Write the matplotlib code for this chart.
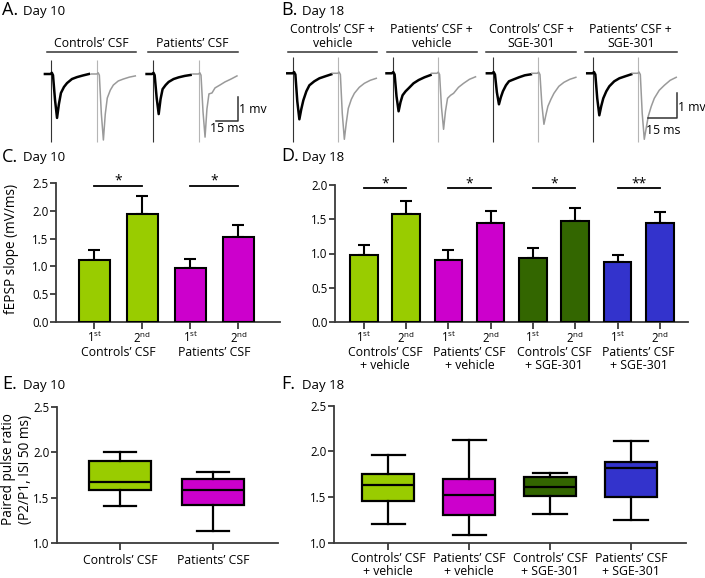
"""Paired-pulse fEPSP figure: traces (A, B), slope bars (C, D), PPR boxes (E, F)."""
import matplotlib
matplotlib.use("Agg")
import matplotlib.pyplot as plt
from matplotlib.ticker import FormatStrFormatter

plt.rcParams["font.family"] = ["Open Sans", "DejaVu Sans"]
plt.rcParams["mathtext.fontset"] = "custom"
plt.rcParams["mathtext.rm"] = "Open Sans"
plt.rcParams["mathtext.it"] = "Open Sans:italic"

W, H = 705, 578
FS = 8.8      # general text size
TFS = 8.3     # tick label size

# ---- colours
LIME = "#99cc00"
MAGENTA = "#cc00cc"
DKGREEN = "#336600"
BLUE = "#3333cc"
AXCOL = "#3a3a3a"

# ---- panel A / B traces (time in ms relative to stimulus, voltage in mV)
t_grid_a = [-4.2, -0.3, 0.6, 1.4, 2.8, 4.2, 5.5, 6.9, 9.0, 11.1, 14.5, 18.0, 22.2, 26.3]
t_grid_b = [-3.2, -0.3, 0.4, 1.1, 2.1, 3.2, 4.2, 5.3, 6.9, 8.5, 11.1, 13.8, 16.9, 20.1]
a_labels = ["Controls’ CSF", "Patients’ CSF"]
a_stim = [7.6, 78.0]          # first stimulus of each pair (ms)
a_isi = 32.1
a_first = [
    [0, 0, 0.05, -0.05, -1.08, -1.83, -1.25, -0.79, -0.54, -0.38, -0.21, -0.13, -0.06, 0.0],
    [0, 0, 0.05, -0.05, -1.00, -1.67, -1.04, -0.63, -0.46, -0.33, -0.21, -0.14, -0.08, -0.04],
]
a_second = [
    [0, 0, 0.05, -0.05, -1.67, -2.75, -1.67, -1.00, -0.67, -0.46, -0.29, -0.21, -0.13, -0.08],
    [0, 0, 0.05, -0.05, -1.58, -2.63, -1.46, -0.83, -0.79, -0.58, -0.46, -0.33, -0.21, -0.08],
]
a_artifact = (0.58, -2.83)

b_labels = ["Controls’ CSF +\nvehicle", "Patients’ CSF +\nvehicle",
            "Controls’ CSF +\nSGE-301", "Patients’ CSF +\nSGE-301"]
b_stim = [4.4, 56.9, 110.0, 163.1]
b_isi = 23.8
b_first = [
    [0, 0, 0.05, -0.05, -1.12, -1.84, -1.44, -1.08, -0.72, -0.48, -0.32, -0.20, -0.12, -0.04],
    [0, 0, 0.05, -0.05, -0.92, -1.52, -1.16, -0.88, -0.72, -0.60, -0.40, -0.27, -0.16, -0.07],
    [0, 0, 0.05, -0.05, -0.76, -1.24, -0.96, -0.72, -0.48, -0.32, -0.24, -0.16, -0.08, -0.04],
    [0, 0, 0.05, -0.05, -1.00, -1.68, -1.32, -1.00, -0.72, -0.52, -0.32, -0.20, -0.12, -0.04],
]
b_second = [
    [0, 0, 0.05, -0.05, -1.60, -2.64, -2.00, -1.40, -1.04, -0.80, -0.56, -0.40, -0.28, -0.20],
    [0, 0, 0.05, -0.05, -1.36, -2.24, -1.52, -1.00, -0.88, -0.80, -0.56, -0.40, -0.24, -0.14],
    [0, 0, 0.05, -0.05, -1.24, -2.04, -1.68, -1.32, -1.04, -0.80, -0.52, -0.36, -0.24, -0.16],
    [0, 0, 0.05, -0.05, -1.60, -2.64, -2.20, -1.72, -1.32, -1.00, -0.68, -0.48, -0.28, -0.16],
]
b_artifact = (0.64, -2.74)

# ---- panel C / D bars (fEPSP slope, mV/ms)
pulse_labels = [r"1$^{\rm st}$", r"2$^{\rm nd}$"]
c_groups = ["Controls’ CSF", "Patients’ CSF"]
c_means = [1.11, 1.94, 0.98, 1.52]
c_sem = [0.18, 0.33, 0.15, 0.22]
c_colors = [LIME, LIME, MAGENTA, MAGENTA]
c_stars = ["*", "*"]

d_groups = ["Controls’ CSF\n+ vehicle", "Patients’ CSF\n+ vehicle",
            "Controls’ CSF\n+ SGE-301", "Patients’ CSF\n+ SGE-301"]
d_means = [0.98, 1.57, 0.90, 1.45, 0.94, 1.48, 0.87, 1.44]
d_sem = [0.14, 0.20, 0.15, 0.17, 0.14, 0.18, 0.11, 0.16]
d_colors = [LIME, LIME, MAGENTA, MAGENTA, DKGREEN, DKGREEN, BLUE, BLUE]
d_stars = ["*", "*", "*", "**"]

# ---- panel E / F boxes (paired pulse ratio)
e_labels = ["Controls’ CSF", "Patients’ CSF"]
e_lo = [1.41, 1.13]
e_q1 = [1.58, 1.42]
e_med = [1.67, 1.58]
e_q3 = [1.90, 1.71]
e_hi = [2.00, 1.78]
e_colors = [LIME, MAGENTA]

f_labels = d_groups
f_lo = [1.21, 1.08, 1.31, 1.25]
f_q1 = [1.46, 1.30, 1.51, 1.50]
f_med = [1.63, 1.52, 1.61, 1.82]
f_q3 = [1.75, 1.70, 1.72, 1.88]
f_hi = [1.96, 2.125, 1.76, 2.11]
f_colors = [LIME, MAGENTA, DKGREEN, BLUE]


def px_axes(fig, left, top, right, bottom):
    return fig.add_axes([left / W, 1 - bottom / H, (right - left) / W, (bottom - top) / H])


def style_axes(ax):
    for s in ("top", "right"):
        ax.spines[s].set_visible(False)
    for s in ("left", "bottom"):
        ax.spines[s].set_color(AXCOL)
        ax.spines[s].set_linewidth(1.3)
    ax.tick_params(axis="y", direction="out", length=4, width=1.3, color=AXCOL,
                   labelsize=TFS, pad=1.5)
    ax.tick_params(axis="x", direction="out", length=5, width=1.3, color=AXCOL,
                   labelsize=TFS, pad=0.5)
    ax.yaxis.set_major_formatter(FormatStrFormatter("%.1f"))


def draw_traces(ax, stims, isi, grid, first, second, artifact):
    for s, v1, v2 in zip(stims, first, second):
        ax.vlines([s], artifact[1], artifact[0], color="#333333", lw=0.8)
        ax.vlines([s + isi], artifact[1], artifact[0], color="#b5b5b5", lw=0.8)
        ax.plot([s + t for t in grid], v1, color="black", lw=1.8, solid_joinstyle="round")
        ax.plot([s + isi + t for t in grid], v2, color="#9a9a9a", lw=1.1,
                solid_joinstyle="round")
    ax.axis("off")


def draw_bars(ax, means, sem, colors, stars, star_y, star_off):
    x = list(range(len(means)))
    ax.errorbar(x, means, yerr=[[0] * len(sem), sem], fmt="none", ecolor="black",
                elinewidth=1.5, capsize=4.5, capthick=1.5, zorder=2)
    ax.bar(x, means, width=0.65, color=colors, edgecolor="black", linewidth=1.5, zorder=3)
    for i, st in enumerate(stars):
        ax.plot([2 * i, 2 * i + 1], [star_y, star_y], color="black", lw=1.3, clip_on=False)
        ax.text(2 * i + 0.5, star_y + star_off, st, ha="center", va="center",
                fontsize=10, clip_on=False)
    ax.set_xticks(x)
    ax.set_xticklabels(pulse_labels * (len(means) // 2))


def draw_boxes(ax, lo, q1, med, q3, hi, colors, width, capw):
    stats = [dict(whislo=a, q1=b, med=c, q3=d, whishi=e, fliers=[])
             for a, b, c, d, e in zip(lo, q1, med, q3, hi)]
    pos = list(range(len(stats)))
    bp = ax.bxp(stats, positions=pos, widths=width, capwidths=capw, patch_artist=True,
                showfliers=False,
                boxprops=dict(edgecolor="black", linewidth=1.6),
                medianprops=dict(color="black", linewidth=1.6),
                whiskerprops=dict(color="black", linewidth=1.6),
                capprops=dict(color="black", linewidth=1.6))
    for patch, c in zip(bp["boxes"], colors):
        patch.set_facecolor(c)
    ax.set_xticks(pos)


fig = plt.figure(figsize=(W / 100, H / 100), dpi=100)

# overlay for panel letters and trace annotations (pixel coordinates)
ov = fig.add_axes([0, 0, 1, 1])
ov.set_xlim(0, W)
ov.set_ylim(H, 0)
ov.axis("off")


def panel_title(x, y, letter, text):
    ov.text(x, y, letter, fontsize=13, ha="left", va="center")
    ov.text(x + 21, y + 1, text, fontsize=9.5, ha="left", va="center")


panel_title(2, 10, "A.", "Day 10")
panel_title(281, 10, "B.", "Day 18")
panel_title(2, 157, "C.", "Day 10")
panel_title(281, 156, "D.", "Day 18")
panel_title(2, 384, "E.", "Day 10")
panel_title(281, 384, "F.", "Day 18")

# trace headers
for lab, x0, x1 in zip(a_labels, [46.7, 147.7], [136.0, 237.7]):
    ov.text((x0 + x1) / 2, 43.5, lab, ha="center", va="center", fontsize=FS)
    ov.plot([x0, x1], [52.3, 52.3], color="#333333", lw=1.1)
for lab, x0, x1 in zip(b_labels, [288.3, 386.7, 486.0, 585.0], [377.3, 476.7, 576.0, 676.7]):
    ov.text((x0 + x1) / 2, 36.5, lab, ha="center", va="center", fontsize=FS,
            linespacing=1.1)
    ov.plot([x0, x1], [52.3, 52.3], color="#333333", lw=1.1)

# y labels
ov.text(12, 249, "fEPSP slope (mV/ms)", rotation=90, ha="center", va="center", fontsize=9.8)
ov.text(17, 469, "Paired pulse ratio\n(P2/P1, ISI 50 ms)", rotation=90, ha="center",
        va="center", fontsize=9.8, linespacing=1.1)

# ---- A traces
ax_a = px_axes(fig, 40, 50, 250, 150)
ax_a.set_xlim(0, 210 / 1.444)
ax_a.set_ylim(-76 / 24, 24 / 24)
draw_traces(ax_a, a_stim, a_isi, t_grid_a, a_first, a_second, a_artifact)
ax_a.plot([121.9, 136.9, 136.9], [-1.96, -1.96, -0.96], color="#333333", lw=1.1)
ax_a.text(138.0, -1.46, "1 mv", ha="left", va="center", fontsize=FS, clip_on=False)
ax_a.text(129.4, -2.25, "15 ms", ha="center", va="center", fontsize=FS)

# ---- B traces
ax_b = px_axes(fig, 285, 50, 700, 150)
ax_b.set_xlim(0, 415 / 1.89)
ax_b.set_ylim(-76.7 / 25, 23.3 / 25)
draw_traces(ax_b, b_stim, b_isi, t_grid_b, b_first, b_second, b_artifact)
ax_b.plot([192.2, 207.2, 207.2], [-1.8, -1.8, -0.8], color="#333333", lw=1.1)
ax_b.text(208.0, -1.37, "1 mv", ha="left", va="center", fontsize=FS, clip_on=False)
ax_b.text(200.0, -2.3, "15 ms", ha="center", va="center", fontsize=FS)

# ---- C bars
ax_c = px_axes(fig, 56, 183, 280, 322)
draw_bars(ax_c, c_means, c_sem, c_colors, c_stars, 2.44, 0.09)
ax_c.set_ylim(0, 2.5)
ax_c.set_xlim(-0.8, (280 - 94.5) / 48)
ax_c.set_yticks([0, 0.5, 1.0, 1.5, 2.0, 2.5])
style_axes(ax_c)
for i, g in enumerate(c_groups):
    ax_c.annotate(g, xy=(2 * i + 0.5, 0), xycoords=("data", "axes fraction"),
                  xytext=(0, -30 * 0.72), textcoords="offset points",
                  ha="center", va="center", fontsize=FS)

# ---- D bars
ax_d = px_axes(fig, 335, 185, 688, 322)
draw_bars(ax_d, d_means, d_sem, d_colors, d_stars, 1.95, 0.07)
ax_d.set_ylim(0, 2.0)
ax_d.set_xlim(-0.68, (688 - 363.7) / 42.3)
ax_d.set_yticks([0, 0.5, 1.0, 1.5, 2.0])
style_axes(ax_d)
for i, g in enumerate(d_groups):
    ax_d.annotate(g, xy=(2 * i + 0.5, 0), xycoords=("data", "axes fraction"),
                  xytext=(0, -37 * 0.72), textcoords="offset points",
                  ha="center", va="center", fontsize=FS, linespacing=1.0)

# ---- E boxes
ax_e = px_axes(fig, 57, 406.7, 278, 543.3)
draw_boxes(ax_e, e_lo, e_q1, e_med, e_q3, e_hi, e_colors, 0.67, 0.34)
ax_e.set_ylim(1.0, 2.5)
ax_e.set_xlim(-0.68, 1.70)
ax_e.set_yticks([1.0, 1.5, 2.0, 2.5])
ax_e.set_xticklabels(e_labels)
style_axes(ax_e)
ax_e.tick_params(axis="x", labelsize=FS, pad=3)

# ---- F boxes
ax_f = px_axes(fig, 334, 405.7, 686, 542.7)
draw_boxes(ax_f, f_lo, f_q1, f_med, f_q3, f_hi, f_colors, 0.64, 0.41)
ax_f.set_ylim(1.0, 2.5)
ax_f.set_xlim(-0.67, 3.68)
ax_f.set_yticks([1.0, 1.5, 2.0, 2.5])
ax_f.set_xticklabels(f_labels, linespacing=1.0)
style_axes(ax_f)
ax_f.tick_params(axis="x", labelsize=FS, pad=2)

fig.savefig("out.png", dpi=100)
